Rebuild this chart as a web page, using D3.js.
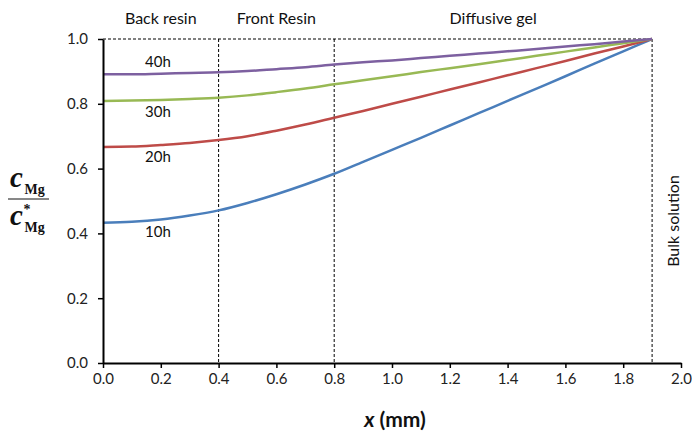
<!DOCTYPE html>
<html><head><meta charset="utf-8">
<script src="https://cdn.jsdelivr.net/npm/d3@7"></script>
<style>body{margin:0;background:#fff}svg{display:block}</style>
</head><body>
<svg id="c" width="692" height="432"></svg>
<script>
const xs = [0,0.1,0.2,0.3,0.4,0.5,0.6,0.7,0.8,0.9,1.0,1.1,1.2,1.3,1.4,1.5,1.6,1.7,1.8,1.9];
const h10 = [0.433,0.436,0.443,0.455,0.471,0.494,0.521,0.551,0.584,0.621,0.658,0.695,0.733,0.771,0.809,0.847,0.885,0.924,0.962,1.0];
const h20 = [0.667,0.668,0.673,0.679,0.688,0.700,0.717,0.736,0.757,0.778,0.800,0.822,0.844,0.866,0.888,0.910,0.932,0.955,0.977,1.0];
const h30 = [0.809,0.810,0.812,0.815,0.819,0.826,0.836,0.847,0.860,0.873,0.885,0.898,0.910,0.922,0.935,0.948,0.961,0.974,0.987,1.0];
const h40 = [0.891,0.891,0.893,0.895,0.897,0.901,0.907,0.913,0.921,0.928,0.934,0.941,0.948,0.955,0.962,0.969,0.977,0.984,0.992,1.0];
const colors = ["#4a7ebb","#be4b48","#98b954","#7d60a0"];
const xTicks = [0,0.2,0.4,0.6,0.8,1.0,1.2,1.4,1.6,1.8,2.0];
const yTicks = [0,0.2,0.4,0.6,0.8,1.0];
const boundaries = [0.4,0.8,1.9];
const regionLabels = [["Back resin",0.2],["Front Resin",0.6],["Diffusive gel",1.35]];
const curveLabelOrder = ["40h","30h","20h","10h"];
const curveLabelPos = [[0.19,0.913],[0.19,0.758],[0.19,0.62],[0.19,0.388]];

const svg = d3.select("#c");
const font = "Lato, 'Open Sans', sans-serif";
const x = d3.scaleLinear().domain([0,2]).range([103,681]);
const y = d3.scaleLinear().domain([0,1]).range([363,39]);

// dashed boundaries
const g = svg.append("g");
g.append("line").attr("x1",x(0)).attr("x2",x(1.9)).attr("y1",y(1)).attr("y2",y(1))
 .attr("stroke","#000").attr("stroke-width",1).attr("stroke-dasharray","3,2");
boundaries.forEach(b=>{
  g.append("line").attr("x1",x(b)).attr("x2",x(b)).attr("y1",y(1)).attr("y2",y(0))
   .attr("stroke","#000").attr("stroke-width",1).attr("stroke-dasharray","3,2");
});

// curves
const all = [h10,h20,h30,h40];
const line = d3.line().x((d,i)=>x(xs[i])).y(d=>y(d)).curve(d3.curveMonotoneX);
all.forEach((s,k)=>{
  svg.append("path").attr("d",line(s)).attr("fill","none").attr("stroke",colors[k]).attr("stroke-width",2.5);
});

// axes
const xa = svg.append("g").attr("transform",`translate(0,${y(0)})`)
  .call(d3.axisBottom(x).tickValues(xTicks).tickFormat(d3.format(".1f")).tickSize(5).tickSizeOuter(0));
const ya = svg.append("g").attr("transform",`translate(${x(0)},0)`)
  .call(d3.axisLeft(y).tickValues(yTicks).tickFormat(d3.format(".1f")).tickSize(5).tickSizeOuter(0));
[xa,ya].forEach(a=>{
  a.select(".domain").attr("stroke","#000").attr("stroke-width",2);
  a.selectAll(".tick line").attr("stroke","#000").attr("stroke-width",1.5);
  a.selectAll("text").attr("font-family",font).attr("font-size",15).attr("fill","#222");
});
xa.selectAll("text").attr("dy","13px");
ya.selectAll("text").attr("dx","-7");

// region labels
regionLabels.forEach(([t,v])=>{
  svg.append("text").attr("x",x(v)).attr("y",24).attr("text-anchor","middle")
   .attr("font-family",font).attr("font-size",16).attr("fill","#111").text(t);
});
// curve labels
curveLabelOrder.forEach((n,k)=>{
  svg.append("text").attr("x",x(curveLabelPos[k][0])).attr("y",y(curveLabelPos[k][1])).attr("text-anchor","middle")
   .attr("font-family",font).attr("font-size",15).attr("fill","#111").text(n);
});
// bulk solution
svg.append("text").attr("transform",`translate(${x(1.9)+27},221) rotate(-90)`).attr("text-anchor","middle")
  .attr("font-family",font).attr("font-size",16).attr("fill","#111").text("Bulk solution");

// x label
const xl = svg.append("text").attr("x",395).attr("y",427).attr("text-anchor","middle")
  .attr("font-family",font).attr("font-size",21).attr("font-weight","bold").attr("fill","#111");
xl.append("tspan").attr("font-style","italic").text("x");
xl.append("tspan").text(" (mm)");

// y label fraction
const serif = "'Liberation Serif','DejaVu Serif',serif";
function frac(yb){
  const t = svg.append("text").attr("x",10).attr("y",yb).attr("font-family",serif).attr("font-weight","bold").attr("fill","#111");
  t.append("tspan").attr("font-style","italic").attr("font-size",29).text("c");
  t.append("tspan").attr("x",24.5).attr("y",yb+7).attr("font-size",14).text("Mg");
}
frac(187);
svg.append("line").attr("x1",8).attr("x2",49).attr("y1",199).attr("y2",199).attr("stroke","#111").attr("stroke-width",1);
frac(225);
svg.append("text").attr("x",23.5).attr("y",214).attr("font-family",serif).attr("font-weight","bold")
  .attr("font-size",14).attr("fill","#111").text("*");
</script>
</body></html>
